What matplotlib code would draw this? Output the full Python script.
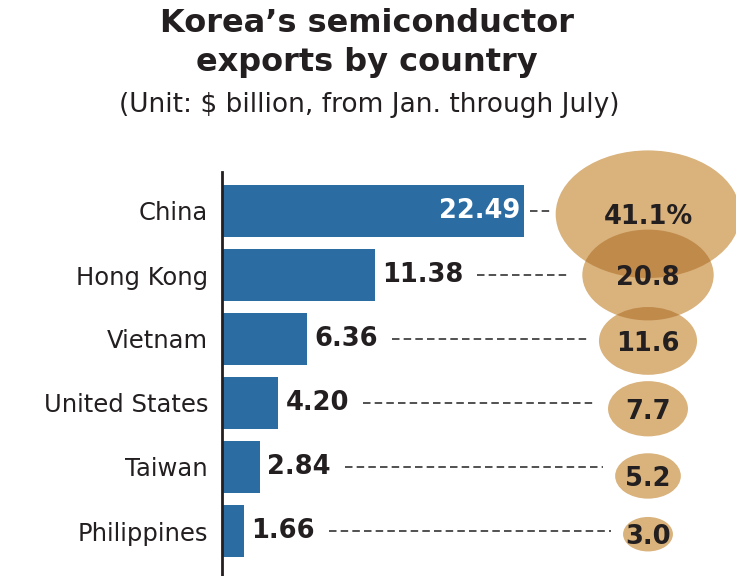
import matplotlib
matplotlib.use("Agg")
import matplotlib.pyplot as plt
from matplotlib.patches import Ellipse
import numpy as np

countries = ["China", "Hong Kong", "Vietnam", "United States", "Taiwan", "Philippines"]
exports = [22.49, 11.38, 6.36, 4.20, 2.84, 1.66]
value_labels = ["22.49", "11.38", "6.36", "4.20", "2.84", "1.66"]
shares = [41.1, 20.8, 11.6, 7.7, 5.2, 3.0]
share_labels = ["41.1%", "20.8", "11.6", "7.7", "5.2", "3.0"]

BLUE = "#2b6ca3"
TAN = "#d9b27c"
TAN_DARK = "#c08a4a"
INK = "#231f20"

W, H = 736, 576
fig = plt.figure(figsize=(W / 100, H / 100), dpi=100)

# axes: left spine at x=222px, top at y=172px, runs to the bottom edge
ax = fig.add_axes([222 / W, 0, 1 - 222 / W, (H - 172) / H])
px_per_unit = 13.43      # horizontal pixels per $ billion
row_px = 64              # vertical pixels per row
ax.set_xlim(0, (W - 222) / px_per_unit)
ax.set_ylim((H - 211) / row_px, (172 - 211) / row_px)

y = np.arange(len(countries))
ax.barh(y, exports, height=0.82, color=BLUE, zorder=2)

for s in ["top", "right", "bottom"]:
    ax.spines[s].set_visible(False)
ax.spines["left"].set_linewidth(2)
ax.spines["left"].set_color(INK)
ax.set_xticks([])
ax.set_yticks(y, countries)
ax.tick_params(axis="y", length=0, pad=10, labelsize=17.5, labelcolor=INK)

# share bubbles (area ~ share), picture is stretched horizontally
circle_x = (648 - 222) / px_per_unit
kx = 28.8 / px_per_unit
ky = 19.9 / row_px
circle_dy = [0.05, 0.0, 0.03, 0.09, 0.14, 0.05]
ells = []
for i, p in enumerate(shares):
    e = Ellipse((circle_x, y[i] + circle_dy[i]), kx * np.sqrt(p), ky * np.sqrt(p),
                facecolor=TAN, edgecolor="none", zorder=3, clip_on=False)
    ax.add_patch(e)
    ells.append(e)
# darker overlap between neighbouring bubbles
for i in range(len(shares) - 1):
    p = shares[i + 1]
    o = Ellipse((circle_x, y[i + 1] + circle_dy[i + 1]), kx * np.sqrt(p), ky * np.sqrt(p),
                facecolor=TAN_DARK, edgecolor="none", zorder=3.5)
    ax.add_patch(o)
    o.set_clip_path(ells[i])

for i, lab in enumerate(share_labels):
    ax.text(circle_x, y[i] + circle_dy[i] + 0.05, lab, ha="center", va="center",
            fontsize=18.5, fontweight="bold", color=INK, zorder=5)

# value labels
texts = []
for i, lab in enumerate(value_labels):
    if i == 0:
        t = ax.annotate(lab, (exports[i], y[i]), xytext=(-3, 0), textcoords="offset points",
                        ha="right", va="center", fontsize=18.5, fontweight="bold",
                        color="white", zorder=5)
    else:
        t = ax.annotate(lab, (exports[i], y[i]), xytext=(5, 0), textcoords="offset points",
                        ha="left", va="center", fontsize=18.5, fontweight="bold",
                        color=INK, zorder=5)
    texts.append(t)

# dashed leaders from label to bubble
fig.canvas.draw()
renderer = fig.canvas.get_renderer()
inv = ax.transData.inverted()
for i in range(len(countries)):
    if i == 0:
        x0_px = ax.transData.transform((exports[i], 0))[0] + 6
        gap = 5
    else:
        x0_px = texts[i].get_window_extent(renderer).x1 + 14
        gap = 12
    cx_px = ax.transData.transform((circle_x, 0))[0]
    half_w = kx * np.sqrt(shares[i]) / 2 * px_per_unit
    x1_px = cx_px - half_w - gap
    x0 = inv.transform((x0_px, 0))[0]
    x1 = inv.transform((x1_px, 0))[0]
    ax.plot([x0, x1], [y[i], y[i]], color="#333333", lw=1.2,
            linestyle=(0, (4.5, 2.5)), zorder=2)

fig.text(367 / W, 1 - 24 / H, "Korea’s semiconductor", ha="center", va="center",
         fontsize=23, fontweight="bold", color=INK)
fig.text(367 / W, 1 - 63 / H, "exports by country", ha="center", va="center",
         fontsize=23, fontweight="bold", color=INK)
fig.text(369 / W, 1 - 105 / H, "(Unit: $ billion, from Jan. through July)", ha="center",
         va="center", fontsize=19, color=INK)

fig.savefig("out.png", dpi=100)
